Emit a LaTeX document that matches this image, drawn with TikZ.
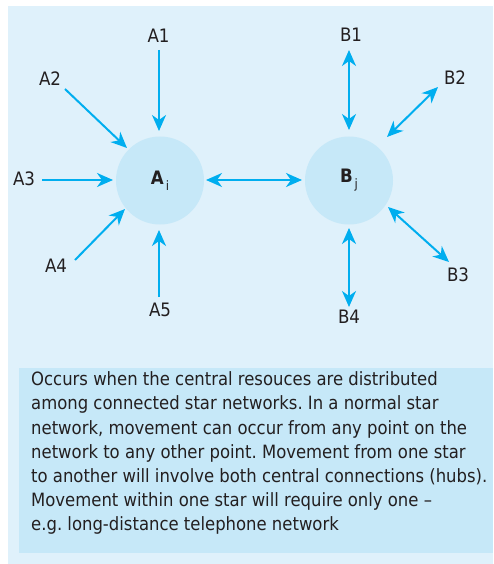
\documentclass[tikz,border=0pt]{standalone}
\usepackage{fontspec}
\setmainfont{DejaVu Sans Condensed}
\usetikzlibrary{arrows.meta}
\definecolor{bgout}{HTML}{DFF1FB}
\definecolor{bgin}{HTML}{C6E8F8}
\definecolor{arrowc}{HTML}{00AEEF}
\definecolor{txt}{HTML}{231F20}
\tikzset{
  hub/.style={circle, fill=bgin, minimum size=88pt, inner sep=0pt, text=txt,
    font=\fontsize{18.5}{20}\selectfont\bfseries},
  lbl/.style={inner sep=0pt, text=txt, font=\fontsize{18.5}{20}\selectfont},
  tip/.tip={Stealth[length=16pt,width=14pt,inset=5pt]},
  arr/.style={draw=arrowc, line width=2pt, -tip},
  darr/.style={draw=arrowc, line width=2pt, tip-tip}
}
\begin{document}
\frenchspacing
\begin{tikzpicture}[x=1pt,y=-1pt]
\useasboundingbox (0,0) rectangle (493,564);
\fill[bgout] (8,6) rectangle (493,564);
\fill[bgin] (19,368) rectangle (493,553);

% hubs
\node[hub] (Ai) at (160,180.5) {A\hspace{2pt}\raisebox{-6pt}{\fontsize{13}{13}\selectfont\mdseries i}};
\node[hub] (Bj) at (349,180.5) {B\hspace{2pt}\raisebox{-6pt}{\fontsize{13}{13}\selectfont\mdseries j}};

% labels
\node[lbl] (A1) at (158.5,36) {A1};
\node[lbl] (A2) at (50,79) {A2};
\node[lbl] (A3) at (24,179) {A3};
\node[lbl] (A4) at (56,266) {A4};
\node[lbl] (A5) at (160,310) {A5};
\node[lbl] (B1) at (351,35) {B1};
\node[lbl] (B2) at (455,78) {B2};
\node[lbl] (B3) at (458,275) {B3};
\node[lbl] (B4) at (349,317) {B4};

% spokes of A
\draw[arr] ([shift={(0.5,14)}]A1.center) -- ([shift={(-1,-49.5)}]Ai.center);
\draw[arr] ([shift={(15,10)}]A2.center) -- ([shift={(-33,-32.5)}]Ai.center);
\draw[arr] ([shift={(18,1)}]A3.center) -- ([shift={(-47,-0.5)}]Ai.center);
\draw[arr] ([shift={(19,-6)}]A4.center) -- ([shift={(-35,28.5)}]Ai.center);
\draw[arr] ([shift={(-1,-13)}]A5.center) -- ([shift={(-1,49.5)}]Ai.center);

% hub to hub
\draw[darr] ([shift={(46,-0.5)}]Ai.center) -- ([shift={(-47,-0.5)}]Bj.center);

% spokes of B
\draw[darr] ([shift={(0,-50.5)}]Bj.center) -- ([shift={(-2,15)}]B1.center);
\draw[darr] ([shift={(38,-43.5)}]Bj.center) -- ([shift={(-17,9)}]B2.center);
\draw[darr] ([shift={(39,26.5)}]Bj.center) -- ([shift={(-9,-13)}]B3.center);
\draw[darr] ([shift={(0,47.5)}]Bj.center) -- ([shift={(0,-10)}]B4.center);

% description
\node[anchor=north west, inner sep=0pt, align=left, text=txt,
  font=\fontsize{18.3}{24.05}\selectfont] (desc) at (31,371.8)
{Occurs when the central resouces are distributed\\
among connected star networks. In a normal star\\
network, movement can occur from any point on the\\
network to any other point. Movement from one star\\
to another will involve both central connections (hubs).\\
Movement within one star will require only one –\\
e.g. long-distance telephone network};
\end{tikzpicture}
\end{document}
